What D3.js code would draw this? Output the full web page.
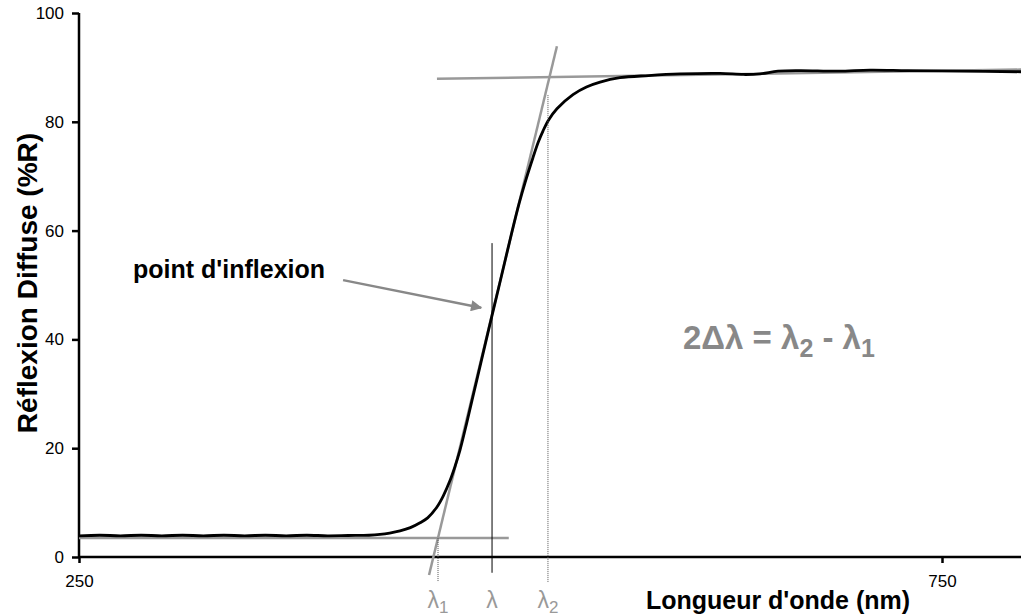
<!DOCTYPE html>
<html><head><meta charset="utf-8">
<script src="https://cdn.jsdelivr.net/npm/d3@7"></script>
<style>body{margin:0;background:#fff}svg{display:block;font-family:"Liberation Sans",Arial,sans-serif}</style>
</head><body><svg id="c" width="1021" height="616"></svg>
<script>
// Data
const wavelengths = [250,262,274,286,298,310,322,334,346,358,370,382,394,406,418,424.4,430,436,442,447.6,452,457.4,461,464.9,467.8,470.7,474,477.7,483.5,488.1,493.9,498,501.4,505,508.4,513,516,518.8,522,526.9,536.2,544,551.9,563.4,580,598.2,621.4,635,644.6,655,667.7,690,708.3,730,760,795.8];
const reflectance = [3.9,4.0,3.9,4.0,3.9,4.0,3.9,4.0,3.9,4.0,3.9,4.0,3.9,3.95,4.0,4.15,4.4,4.8,5.4,6.3,7.2,9.2,11.2,14.0,16.6,19.6,23.8,28.8,36.6,42.8,50.5,56.0,60.5,65.0,68.8,73.4,76.2,78.3,80.3,82.4,85.0,86.4,87.3,88.1,88.5,88.8,88.9,88.7,88.8,89.3,89.4,89.3,89.5,89.4,89.3,89.2];
const yTicks = [0,20,40,60,80,100];
const xTicks = [250,750];
const baseTangent = [[250,3.5],[499,3.5]];
const topTangent = [[457.4,87.9],[795.8,89.6]];
const slopeTangent = [[452.8,-3.3],[526.9,93.9]];
const lambda = 489.3, lambda1 = 458, lambda2 = 521.7;
const lambdaLine = [[lambda,57.7],[lambda,-2.9]];
const lambda1Line = [[lambda1,3.5],[lambda1,-4.6]];
const lambda2Line = [[lambda2,84.9],[lambda2,-4.6]];
const arrowPts = [[403,50.9],[483,45.8]];

const svg = d3.select("#c");
const x = d3.scaleLinear().domain([250,800]).range([79,79+550*1.726]);
const y = d3.scaleLinear().domain([0,100]).range([557,13]);
const grey = "#999";

// axes
const ya = svg.append("g").attr("transform","translate(79,0)")
  .call(d3.axisLeft(y).tickValues(yTicks).tickSize(7).tickPadding(8));
const xa = svg.append("g").attr("transform","translate(0,557)")
  .call(d3.axisBottom(x).tickValues(xTicks).tickSize(6).tickPadding(12));
[ya,xa].forEach(g=>{
  g.attr("font-size",17).attr("font-family","Liberation Sans, Arial, sans-serif");
  g.select(".domain").attr("stroke","#000").attr("stroke-width",2.5);
  g.selectAll(".tick line").attr("stroke","#000").attr("stroke-width",2.5);
  g.selectAll("text").attr("fill","#000");
});
ya.select(".domain").attr("d","M0,13V557");
xa.select(".domain").attr("d","M79,0H1021");

const line = d3.line().x(d=>x(d[0])).y(d=>y(d[1]));

// tangents
[baseTangent, topTangent, slopeTangent].forEach(t=>{
  svg.append("path").attr("d",line(t)).attr("stroke",grey).attr("stroke-width",2.5).attr("fill","none");
});

// curve
const curve = d3.line().x(d=>x(d[0])).y(d=>y(d[1])).curve(d3.curveCatmullRom);
svg.append("path").attr("d",curve(wavelengths.map((w,i)=>[w,reflectance[i]])))
  .attr("fill","none").attr("stroke","#000").attr("stroke-width",2.8);

// lambda lines
svg.append("path").attr("d",line(lambdaLine)).attr("stroke","#000").attr("stroke-width",1);
[lambda1Line,lambda2Line].forEach(l=>{
  svg.append("path").attr("d",line(l)).attr("stroke","#555").attr("stroke-width",1).attr("stroke-dasharray","1,1");
});

// arrow
svg.append("defs").append("marker").attr("id","ah").attr("viewBox","0 0 10 10")
  .attr("refX",9).attr("refY",5).attr("markerWidth",6).attr("markerHeight",4.5).attr("orient","auto")
  .attr("markerUnits","strokeWidth")
  .append("path").attr("d","M0,0L10,5L0,10z").attr("fill","#888");
svg.append("path").attr("d",line(arrowPts)).attr("stroke","#888").attr("stroke-width",2.5).attr("marker-end","url(#ah)");

// texts
svg.append("text").attr("x",133).attr("y",278).attr("font-size",25).attr("font-weight","bold").text("point d'inflexion");

const f = svg.append("text").attr("x",683).attr("y",349).attr("font-size",33).attr("font-weight","bold").attr("fill","#888");
f.append("tspan").text("2Δλ = λ");
f.append("tspan").attr("font-size",25).attr("dy",8).text("2");
f.append("tspan").attr("dy",-8).text(" - λ");
f.append("tspan").attr("font-size",25).attr("dy",8).text("1");

function lamLabel(xv, sub){
  const t = svg.append("text").attr("x",x(xv)).attr("y",608).attr("font-size",23).attr("fill",grey).attr("text-anchor","middle");
  t.append("tspan").text("λ");
  if(sub){ t.append("tspan").attr("font-size",17).attr("dy",5).text(sub); }
}
lamLabel(lambda1,"1"); lamLabel(lambda,""); lamLabel(lambda2,"2");

svg.append("text").attr("x",778).attr("y",609).attr("text-anchor","middle").attr("font-size",25).attr("font-weight","bold").text("Longueur d'onde (nm)");
svg.append("text").attr("transform","translate(37,283) rotate(-90)").attr("text-anchor","middle").attr("font-size",28).attr("font-weight","bold").text("Réflexion Diffuse (%R)");
</script></body></html>
